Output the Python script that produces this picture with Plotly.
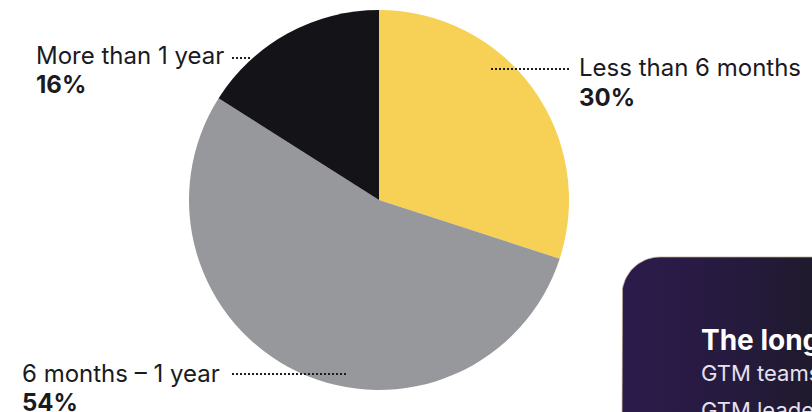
import numpy as np
import plotly.graph_objects as go

W, H = 812, 412

categories = ["Less than 6 months", "6 months – 1 year", "More than 1 year"]
values = [30, 54, 16]
colors = ["#F6D155", "#97989B", "#141317"]

box_title = "The longest part"
box_lines = ["GTM teams say the process", "GTM leaders report delays"]

def px(x):
    return x / W

def py(y):
    return 1 - y / H

fig = go.Figure()

# pie: center (379,200), radius 190
fig.add_trace(go.Pie(
    labels=categories, values=values, sort=False, direction="clockwise", rotation=0,
    marker=dict(colors=colors, line=dict(width=0)),
    textinfo="none", hoverinfo="label+percent", showlegend=False,
    domain=dict(x=[px(189), px(569)], y=[py(390), py(10)]),
))

# purple callout box (decoration) with rounded top-left corner
r = 38
x0, y0 = 622, 257
t = np.linspace(np.pi, 1.5 * np.pi, 20)
arc_x = x0 + r + r * np.cos(t)
arc_y = y0 + r + r * np.sin(t)
bx = np.concatenate([[x0], arc_x, [840, 840, x0]])
by = np.concatenate([[430], arc_y, [y0, 430, 430]])
fig.add_trace(go.Scatter(
    x=bx, y=by, mode="lines", fill="toself",
    line=dict(color="rgba(190,170,140,0.7)", width=1),
    fillgradient=dict(type="horizontal", colorscale=[[0, "#2C1B4B"], [0.5, "#261A3F"], [1, "#1D1A27"]]),
    hoverinfo="skip", showlegend=False,
))

fig.update_xaxes(range=[0, W], visible=False, fixedrange=True)
fig.update_yaxes(range=[H, 0], visible=False, fixedrange=True)

txt = "#1B1A1E"
font = "Inter"

def label(x, y, text, size, bold=False, color=txt):
    fig.add_annotation(x=px(x), y=py(y), xref="paper", yref="paper", text=(f"<b>{text}</b>" if bold else text),
                       showarrow=False, xanchor="left", yanchor="middle",
                       font=dict(family=font, size=size, color=color))

# labels: name line and percentage line
label_pos = {
    "More than 1 year": (34, 55, 84),
    "Less than 6 months": (577, 67, 97),
    "6 months – 1 year": (20, 373, 402),
}
for cat, val in zip(categories, values):
    x, y1, y2 = label_pos[cat]
    label(x, y1, cat, 24)
    label(x, y2, f"{val}%", 24, bold=True)

# dotted leader lines
leaders = [(232, 250, 58), (491, 569, 69), (232, 347, 374)]
for xa, xb, yy in leaders:
    fig.add_shape(type="line", xref="paper", yref="paper", x0=px(xa), x1=px(xb), y0=py(yy), y1=py(yy),
                  line=dict(color=txt, width=2, dash="2px,2px"), layer="above")

label(699, 340, box_title, 28, bold=True, color="#FFFFFF")
label(699, 373, box_lines[0], 22, color="#E6E1EE")
label(699, 410, box_lines[1], 22, color="#E6E1EE")

fig.update_layout(
    width=W, height=H, margin=dict(l=0, r=0, t=0, b=0),
    paper_bgcolor="#FFFFFF", plot_bgcolor="rgba(0,0,0,0)",
    showlegend=False,
)

fig.write_html("out.html")
